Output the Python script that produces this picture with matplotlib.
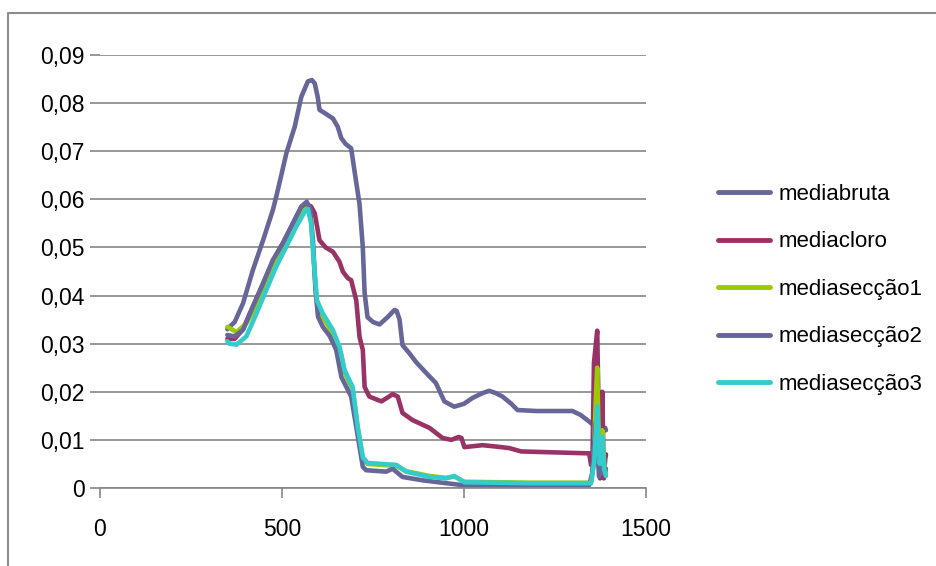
import matplotlib
matplotlib.use('Agg')
import matplotlib.pyplot as plt
from matplotlib.lines import Line2D

# series (x, mean value)
x_bruta = [350, 356, 370, 393, 420, 448, 475, 484, 498, 512, 535, 553, 571, 582, 590, 598, 603, 620,
           640, 653, 663, 675, 690, 699, 713, 722, 727, 735, 750, 768, 790, 809, 815, 823, 831, 850,
           868, 895, 923, 946, 973, 1000, 1023, 1050, 1069, 1085, 1106, 1130, 1147, 1200, 1298,
           1320, 1344, 1362, 1370, 1380, 1388, 1390]
y_bruta = [0.0330, 0.0335, 0.0345, 0.0384, 0.0453, 0.0515, 0.0578, 0.0605, 0.0650, 0.0696, 0.0751,
           0.0813, 0.0845, 0.0848, 0.0841, 0.0813, 0.0786, 0.0778, 0.0768, 0.0751, 0.0727, 0.0715,
           0.0706, 0.0660, 0.0590, 0.0500, 0.0405, 0.0355, 0.0345, 0.0340, 0.0355, 0.0370, 0.0368,
           0.0350, 0.0297, 0.0280, 0.0262, 0.0240, 0.0218, 0.0180, 0.0169, 0.0175, 0.0187, 0.0197,
           0.0202, 0.0198, 0.0190, 0.0175, 0.0162, 0.0160, 0.0160, 0.0152, 0.0138, 0.0127, 0.0120,
           0.0115, 0.0125, 0.0120]

x_cloro = [350, 370, 393, 420, 448, 475, 503, 530, 553, 568, 580, 590, 603, 620, 640, 658, 667, 681,
           690, 704, 713, 722, 727, 740, 773, 790, 804, 818, 831, 859, 905, 941, 965, 985, 993, 1001,
           1051, 1090, 1124, 1157, 1250, 1344, 1349, 1353, 1357, 1366, 1370, 1374, 1378, 1380, 1384,
           1388, 1390]
y_cloro = [0.0310, 0.0310, 0.0330, 0.0377, 0.0425, 0.0472, 0.0510, 0.0550, 0.0583, 0.0590, 0.0585,
           0.0571, 0.0515, 0.0500, 0.0491, 0.0470, 0.0450, 0.0436, 0.0432, 0.0390, 0.0314, 0.0287,
           0.0210, 0.0190, 0.0180, 0.0188, 0.0195, 0.0190, 0.0156, 0.0141, 0.0125, 0.0104, 0.0100,
           0.0106, 0.0104, 0.0085, 0.0089, 0.0086, 0.0083, 0.0076, 0.0074, 0.0072, 0.0048, 0.0060,
           0.0260, 0.0327, 0.0150, 0.0020, 0.0080, 0.0200, 0.0020, 0.0060, 0.0070]

x_sec1 = [350, 375, 402, 430, 457, 484, 512, 539, 562, 571, 580, 590, 596, 612, 640, 662, 672, 694,
          708, 722, 735, 814, 841, 905, 951, 973, 1001, 1179, 1349, 1356, 1362, 1366, 1370, 1375,
          1380, 1385, 1390]
y_sec1 = [0.0335, 0.0324, 0.0342, 0.0380, 0.0428, 0.0470, 0.0508, 0.0548, 0.0578, 0.0583, 0.0560,
          0.0440, 0.0385, 0.0355, 0.0320, 0.0280, 0.0240, 0.0205, 0.0125, 0.0062, 0.0050, 0.0046,
          0.0035, 0.0025, 0.0021, 0.0024, 0.0013, 0.0011, 0.0011, 0.0050, 0.0180, 0.0250, 0.0100,
          0.0040, 0.0120, 0.0050, 0.0030]

x_sec2 = [350, 370, 393, 420, 448, 475, 503, 530, 553, 568, 577, 585, 592, 599, 612, 631, 649, 663,
          690, 704, 722, 731, 786, 804, 831, 886, 951, 996, 1344, 1352, 1362, 1371, 1378, 1385, 1390]
y_sec2 = [0.0318, 0.0315, 0.0329, 0.0377, 0.0425, 0.0474, 0.0509, 0.0550, 0.0585, 0.0595, 0.0580,
          0.0515, 0.0411, 0.0356, 0.0335, 0.0316, 0.0287, 0.0231, 0.0190, 0.0127, 0.0044, 0.0037,
          0.0034, 0.0040, 0.0023, 0.0016, 0.0010, 0.0006, 0.0006, 0.0030, 0.0135, 0.0024, 0.0060,
          0.0030, 0.0040]

x_sec3 = [350, 356, 375, 402, 430, 457, 484, 512, 539, 562, 571, 580, 590, 596, 612, 640, 658, 672,
          694, 708, 722, 735, 814, 841, 905, 951, 973, 1001, 1179, 1349, 1358, 1366, 1373, 1380,
          1385, 1390]
y_sec3 = [0.0305, 0.0300, 0.0298, 0.0315, 0.0363, 0.0412, 0.0460, 0.0502, 0.0543, 0.0574, 0.0580,
          0.0550, 0.0446, 0.0390, 0.0363, 0.0328, 0.0293, 0.0245, 0.0210, 0.0127, 0.0064, 0.0052,
          0.0048, 0.0034, 0.0023, 0.0020, 0.0025, 0.0012, 0.0010, 0.0010, 0.0055, 0.0170, 0.0050,
          0.0106, 0.0040, 0.0025]

series_names = ['mediabruta', 'mediacloro', 'mediasecção1', 'mediasecção2', 'mediasecção3']
series_colors = ['#666699', '#993366', '#99CC00', '#666699', '#33CCCC']

x_ticks = [0, 500, 1000, 1500]
y_ticks = [0, 0.01, 0.02, 0.03, 0.04, 0.05, 0.06, 0.07, 0.08, 0.09]
y_tick_labels = ['0', '0,01', '0,02', '0,03', '0,04', '0,05', '0,06', '0,07', '0,08', '0,09']

W, H = 936, 566
fig = plt.figure(figsize=(W / 100, H / 100), dpi=100)
ax = fig.add_axes([100 / W, (H - 488) / H, 546 / W, 433 / H])

tick_font = dict(family='Liberation Sans', size=16.5)

xs = [x_bruta, x_cloro, x_sec1, x_sec2, x_sec3]
ys = [y_bruta, y_cloro, y_sec1, y_sec2, y_sec3]
for x, y, name, c in zip(xs, ys, series_names, series_colors):
    ax.plot(x, y, color=c, lw=3.3, label=name, solid_joinstyle='round', solid_capstyle='round')

ax.set_xlim(0, 1500)
ax.set_ylim(0, 0.09)
ax.set_xticks(x_ticks)
ax.set_xticklabels([str(t) for t in x_ticks], fontdict=tick_font)
ax.set_yticks(y_ticks)
ax.set_yticklabels(y_tick_labels, fontdict=tick_font)

ax.grid(axis='y', color='#868686', lw=1.2)
ax.set_axisbelow(True)
for s in ['top', 'right', 'left']:
    ax.spines[s].set_visible(False)
ax.spines['bottom'].set_color('#868686')
ax.spines['bottom'].set_linewidth(1.2)
ax.tick_params(axis='x', direction='out', length=7, width=1.2, color='#868686', pad=14.5)
ax.tick_params(axis='y', direction='out', length=7, width=1.2, color='#868686', pad=4)

ax.legend(loc='upper left', bbox_to_anchor=(718 / W, 1 - 184 / H), bbox_transform=fig.transFigure,
          frameon=False, prop=dict(family='Liberation Sans', size=16), handlelength=2.35,
          handletextpad=0.36, labelspacing=1.19, borderpad=0, borderaxespad=0)
for line in ax.get_legend().get_lines():
    line.set_linewidth(3.5)

# outer chart-area border (cropped at right and bottom)
fig.add_artist(Line2D([8 / W, 8 / W, 1], [0, 1 - 13 / H, 1 - 13 / H], transform=fig.transFigure,
                      color='#8c8c8c', lw=1.5))

plt.savefig('out.png', dpi=100)
